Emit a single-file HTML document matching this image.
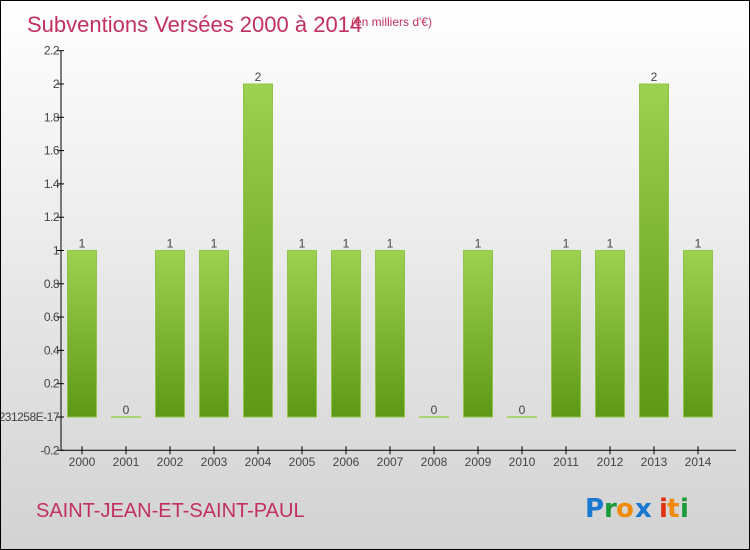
<!DOCTYPE html>
<html><head><meta charset="utf-8"><style>
html,body{margin:0;padding:0}
body{width:750px;height:550px;overflow:hidden;font-family:"Liberation Sans",sans-serif}
#wrap{position:relative;width:748px;height:548px;border:1px solid #000;background:linear-gradient(#ffffff,#d2d2d2)}
</style></head><body>
<div id="wrap">
<svg id="chart" width="748" height="548" style="position:absolute;left:0;top:0">
<text x="26" y="31" font-size="22" fill="#c2305e">Subventions Versées 2000 à 2014</text>
<text x="350" y="25" font-size="12" fill="#c2305e">(en milliers d'€)</text>
<text x="35" y="516" font-size="20" fill="#c2305e">SAINT-JEAN-ET-SAINT-PAUL</text>
<g font-size="26" font-weight="bold" font-family="'DejaVu Sans',sans-serif">
<text x="584" y="516" fill="#1a78d0">P</text><text x="603" y="516" fill="#1b9a3a">r</text><text x="615" y="516" fill="#f08a00">o</text><text x="634" y="516" fill="#1a78d0">x</text><text x="658" y="516" fill="#e03010">i</text><text x="666" y="516" fill="#f08a00">t</text><text x="679" y="516" fill="#1b9a3a">i</text>
</g>
<defs><linearGradient id="bg" x1="0" y1="0" x2="0" y2="1"><stop offset="0" stop-color="#9dd150"/><stop offset="1" stop-color="#5e9816"/></linearGradient></defs>
<g id="axes"></g><g id="bars"></g>
</svg>
</div>
<script>
const years=["2000","2001","2002","2003","2004","2005","2006","2007","2008","2009","2010","2011","2012","2013","2014"];
const values=[1,0,1,1,2,1,1,1,0,1,0,1,1,2,1];
const tickValues=[-0.2,0,0.2,0.4,0.6,0.8,1,1.2,1.4,1.6,1.8,2,2.2];
const tickLabels=["-0.2","-5.5511151231258E-17","0.2","0.4","0.6","0.8","1","1.2","1.4","1.6","1.8","2","2.2"];
const NS="http://www.w3.org/2000/svg";
const y=v=>416-v*166.5;
const x=i=>81+i*44;
function mk(t,a,p){const e=document.createElementNS(NS,t);for(const k in a)e.setAttribute(k,a[k]);p.appendChild(e);return e;}
const ax=document.getElementById('axes'),bg=document.getElementById('bars');
let l=mk('line',{x1:60,y1:y(2.2),x2:60,y2:y(-0.2),stroke:'#000'},ax);


l=mk('line',{x1:60,y1:y(-0.2),x2:735,y2:y(-0.2),stroke:'#000'},ax);


tickValues.forEach((v,i)=>{
 const tk=mk('line',{x1:56,y1:y(v),x2:63,y2:y(v),stroke:'#000'},ax);
 
 
 const t=mk('text',{x:58,y:y(v)+4,'font-size':12,fill:'#444','text-anchor':'end','letter-spacing':'-0.5'},ax);
 t.textContent=tickLabels[i];
 
 
});
years.forEach((yr,i)=>{
 const cx=x(i),v=values[i];
 const tk=mk('line',{x1:cx,y1:y(-0.2)-4,x2:cx,y2:y(-0.2)+4,stroke:'#000'},ax);
 
 
 const t=mk('text',{x:cx,y:465,'font-size':12,fill:'#444','text-anchor':'middle'},ax);
 t.textContent=yr;
 
 
 let r;
 if(v>0){r=mk('rect',{x:cx-14.5,y:y(v),width:29,height:y(0)-y(v),fill:'url(#bg)',stroke:'#8fc545','stroke-width':1},bg);}
 else{r=mk('rect',{x:cx-15,y:y(0)-1,width:30,height:2,fill:'#a8d47a'},bg);}
 
 
 const vl=mk('text',{x:cx,y:y(v)-3,'font-size':12,fill:'#444','text-anchor':'middle'},bg);
 vl.textContent=v;
 
 
});
</script>
</body></html>
